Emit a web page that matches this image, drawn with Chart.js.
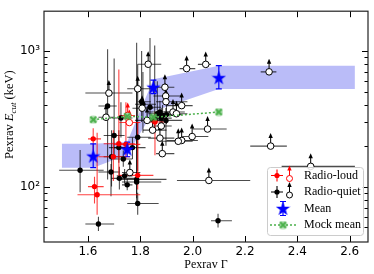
<!DOCTYPE html>
<html>
<head>
<meta charset="utf-8">
<script src="https://cdn.jsdelivr.net/npm/chart.js@4.4.1/dist/chart.umd.min.js"></script>
<style>html,body{margin:0;padding:0;background:#fff}</style>
</head>
<body>
<canvas id="c" width="374" height="274" style="width:374px;height:274px"></canvas>
<script>
// pexrav photon index vs cutoff energy
// detections: [gamma, gammaLo, gammaHi, ecut, ecutLo, ecutHi]
const radioLoud = [
    [1.62, 1.60, 1.65, 225, 185, 270],
    [1.625, 1.60, 1.66, 100, 75, 118],
    [1.635, 1.56, 1.80, 87, 62, 250],
    [1.718, 1.66, 1.78, 207, 120, 730],
    [1.697, 1.64, 1.76, 166, 110, 260],
    [1.79, 1.72, 1.85, 121, 95, 300],
    [1.856, 1.82, 1.90, 300, 170, 350],
    [1.745, 1.70, 1.80, 205, 160, 420]
];
const radioQuiet = [
    [1.57, 1.49, 1.66, 132, 91, 186],
    [1.64, 1.59, 1.70, 53, 47, 60],
    [1.675, 1.64, 1.71, 393, 113, 1030],
    [1.69, 1.66, 1.73, 166, 100, 260],
    [1.688, 1.64, 1.72, 128, 85, 147],
    [1.70, 1.66, 1.74, 238, 160, 880],
    [1.718, 1.68, 1.77, 194, 150, 260],
    [1.726, 1.69, 1.77, 321, 230, 420],
    [1.72, 1.69, 1.79, 115, 95, 140],
    [1.735, 1.70, 1.77, 160, 140, 185],
    [1.75, 1.73, 1.77, 103, 94, 114],
    [1.77, 1.70, 1.82, 194, 160, 230],
    [1.786, 1.71, 1.90, 113, 75, 1150],
    [1.786, 1.73, 1.88, 108, 82, 500],
    [1.79, 1.75, 1.87, 75, 62, 90],
    [1.79, 1.75, 1.84, 231, 130, 800],
    [1.805, 1.79, 1.84, 423, 300, 1000],
    [1.81, 1.78, 1.86, 405, 250, 700],
    [1.837, 1.80, 1.88, 385, 330, 1250],
    [1.875, 1.83, 1.93, 355, 290, 430],
    [1.885, 1.85, 1.94, 335, 280, 400],
    [1.898, 1.86, 1.96, 308, 200, 380],
    [1.90, 1.87, 1.96, 340, 290, 400],
    [2.097, 2.07, 2.15, 56, 50, 63],
    [1.855, 1.82, 1.90, 315, 260, 1100],
    [1.865, 1.83, 1.91, 345, 300, 600],
    [1.88, 1.84, 1.92, 320, 260, 380],
    [1.74, 1.71, 1.77, 120, 105, 135]
];
// lower limits on Ecut: [gamma, gammaLo, gammaHi, ecut]
const radioLoudLim = [
    [1.758, 1.72, 1.80, 297],
    [1.752, 1.72, 1.78, 335]
];
const radioQuietLim = [
    [1.68, 1.59, 1.77, 490],
    [1.669, 1.64, 1.70, 325],
    [1.79, 1.75, 1.86, 527],
    [1.83, 1.79, 1.88, 800],
    [1.894, 1.86, 1.93, 541],
    [1.897, 1.85, 1.96, 466],
    [1.898, 1.86, 1.98, 423],
    [1.958, 1.90, 2.00, 396],
    [1.977, 1.95, 2.01, 743],
    [2.05, 2.02, 2.07, 798],
    [2.292, 2.26, 2.32, 703],
    [2.298, 2.22, 2.36, 199],
    [2.451, 2.34, 2.62, 141],
    [2.062, 1.94, 2.22, 111],
    [2.057, 2.00, 2.13, 266],
    [1.998, 1.96, 2.06, 234],
    [1.958, 1.90, 2.02, 219],
    [1.945, 1.88, 2.00, 216],
    [1.884, 1.86, 1.93, 175],
    [1.875, 1.83, 1.93, 228],
    [1.847, 1.81, 1.90, 261],
    [1.826, 1.78, 1.87, 308],
    [1.807, 1.77, 1.85, 379],
    [1.925, 1.89, 1.97, 355],
    [1.938, 1.91, 1.98, 345],
    [1.76, 1.73, 1.80, 127],
    [1.88, 1.85, 1.92, 280]
];
// binned means
const meanGamma = [1.62, 1.75, 1.85, 2.10];
const meanEcut = [168, 189, 541, 637];
const meanEcutLo = [138, 166, 485, 526];
const meanEcutHi = [207, 213, 611, 781];
const mockGamma = [1.62, 1.75, 1.85, 2.10];
const mockEcut = [312, 330, 325, 355];
// shaded band
const bandGamma = [1.5, 1.62, 1.75, 1.85, 2.10, 2.62];
const bandLo = [138, 138, 172, 360, 526, 526];
const bandHi = [207, 207, 213, 620, 781, 781];
// ticks
const xTicks = [1.6, 1.8, 2.0, 2.2, 2.4, 2.6];
const yTicks = [50, 60, 70, 80, 90, 100, 200, 300, 400, 500, 600, 700, 800, 900, 1000];
const yLabels = {100: '10²', 1000: '10³'};

const GREEN = '#4bb04b';

function makeStar(size, color) {
    var c = document.createElement('canvas');
    c.width = c.height = size;
    var g = c.getContext('2d');
    var r = size / 2, ri = r * 0.4;
    g.beginPath();
    for (var i = 0; i < 10; i++) {
        var a = -Math.PI / 2 + i * Math.PI / 5;
        var rr = i % 2 ? ri : r;
        g.lineTo(r + rr * Math.cos(a), r * 1.08 + rr * Math.sin(a));
    }
    g.closePath();
    g.fillStyle = color;
    g.fill();
    return c;
}
function makeMock(size) {
    var c = document.createElement('canvas');
    c.width = c.height = size;
    var g = c.getContext('2d');
    var r = size / 2;
    g.fillStyle = 'rgba(75,176,75,0.45)';
    g.beginPath(); g.arc(r, r, r - 0.5, 0, Math.PI * 2); g.fill();
    g.strokeStyle = GREEN; g.lineWidth = 2;
    g.beginPath();
    g.moveTo(1.5, 1.5); g.lineTo(size - 1.5, size - 1.5);
    g.moveTo(size - 1.5, 1.5); g.lineTo(1.5, size - 1.5);
    g.stroke();
    return c;
}
const starImg = makeStar(15, '#0000ff');
const mockImg = makeMock(9);

function pts(xs, ys) { return xs.map((v, i) => ({x: v, y: ys[i]})); }
function rowPts(rows) { return rows.map(r => ({x: r[0], y: r[3]})); }

function drawArrow(ctx, px, py, color) {
    ctx.strokeStyle = color;
    ctx.fillStyle = color;
    ctx.lineWidth = 1;
    ctx.beginPath(); ctx.moveTo(px, py); ctx.lineTo(px, py - 9); ctx.stroke();
    ctx.beginPath();
    ctx.moveTo(px, py - 13); ctx.lineTo(px - 2.2, py - 8); ctx.lineTo(px + 2.2, py - 8);
    ctx.closePath(); ctx.fill();
}

function drawBars(ctx, xs, ys, rows, color, isLim, arrowColor) {
    rows.forEach(function(r) {
        var px = xs.getPixelForValue(r[0]), py = ys.getPixelForValue(r[3]);
        ctx.strokeStyle = color;
        ctx.lineWidth = 1.1;
        ctx.beginPath();
        ctx.moveTo(xs.getPixelForValue(r[1]), py);
        ctx.lineTo(xs.getPixelForValue(r[2]), py);
        if (!isLim) {
            ctx.moveTo(px, ys.getPixelForValue(r[4]));
            ctx.lineTo(px, ys.getPixelForValue(r[5]));
        }
        ctx.stroke();
        if (isLim) drawArrow(ctx, px, py, arrowColor);
    });
}

// error bars go in right before the first marker set
const errorBars = {
    id: 'errorBars',
    beforeDatasetDraw(chart, args) {
        if (chart.data.datasets[args.index].label !== 'Radio-quiet') return;
        var ctx = chart.ctx, a = chart.chartArea, xs = chart.scales.x, ys = chart.scales.y;
        ctx.save();
        ctx.beginPath(); ctx.rect(a.left, a.top, a.width, a.height); ctx.clip();
        drawBars(ctx, xs, ys, radioQuiet, 'rgba(0,0,0,0.7)', false);
        drawBars(ctx, xs, ys, radioQuietLim, 'rgba(0,0,0,0.7)', true, '#000');
        drawBars(ctx, xs, ys, radioLoud, 'rgba(255,0,0,0.75)', false);
        drawBars(ctx, xs, ys, radioLoudLim, 'rgba(255,0,0,0.75)', true, '#f00');
        // mean error bars with caps
        ctx.strokeStyle = '#0000ff';
        ctx.lineWidth = 1.2;
        meanGamma.forEach(function(g, i) {
            var px = xs.getPixelForValue(g);
            var lo = ys.getPixelForValue(meanEcutLo[i]), hi = ys.getPixelForValue(meanEcutHi[i]);
            ctx.beginPath();
            ctx.moveTo(px, lo); ctx.lineTo(px, hi);
            ctx.moveTo(px - 3, lo); ctx.lineTo(px + 3, lo);
            ctx.moveTo(px - 3, hi); ctx.lineTo(px + 3, hi);
            ctx.stroke();
        });
        ctx.restore();
    }
};

const frame = {
    id: 'frame',
    afterDraw(chart) {
        var ctx = chart.ctx, a = chart.chartArea, xs = chart.scales.x, ys = chart.scales.y;
        ctx.save();
        ctx.strokeStyle = '#000';
        ctx.lineWidth = 1;
        ctx.beginPath();
        xs.ticks.forEach(function(t) {
            var p = Math.round(xs.getPixelForValue(t.value)) + 0.5;
            ctx.moveTo(p, a.bottom); ctx.lineTo(p, a.bottom - 6);
            ctx.moveTo(p, a.top); ctx.lineTo(p, a.top + 6);
        });
        ys.ticks.forEach(function(t) {
            var len = yLabels[t.value] ? 6 : 3.5;
            var p = Math.round(ys.getPixelForValue(t.value)) + 0.5;
            ctx.moveTo(a.left, p); ctx.lineTo(a.left + len, p);
            ctx.moveTo(a.right, p); ctx.lineTo(a.right - len, p);
        });
        ctx.stroke();
        ctx.lineWidth = 1.2;
        ctx.strokeStyle = '#222';
        ctx.strokeRect(a.left, a.top, a.width, a.height);

        // y title with italic E and subscript
        ctx.fillStyle = '#000';
        ctx.textBaseline = 'alphabetic';
        var parts = [
            ['Pexrav ', '12.5px "Liberation Serif"', 0],
            ['E', 'italic 12.5px "Liberation Serif"', 0],
            ['cut', 'italic 9px "Liberation Serif"', 2.5],
            [' (keV)', '12.5px "Liberation Serif"', 0]
        ];
        var w = 0;
        parts.forEach(function(p) { ctx.font = p[1]; w += ctx.measureText(p[0]).width; });
        ctx.translate(13, (a.top + a.bottom) / 2 - 12);
        ctx.rotate(-Math.PI / 2);
        var x0 = -w / 2;
        parts.forEach(function(p) {
            ctx.font = p[1];
            ctx.fillText(p[0], x0, p[2]);
            x0 += ctx.measureText(p[0]).width;
        });
        ctx.restore();

        // legend
        ctx.save();
        var bx = 267, by = 167, bw = 96, bh = 68;
        ctx.fillStyle = 'rgba(255,255,255,0.85)';
        ctx.strokeStyle = '#cccccc';
        ctx.lineWidth = 1;
        ctx.beginPath();
        ctx.roundRect(bx + 0.5, by + 0.5, bw, bh, 3);
        ctx.fill(); ctx.stroke();
        var rows = [['Radio-loud', '#f00', 175.5], ['Radio-quiet', '#000', 192], ['Mean', null, 208.5], ['Mock mean', null, 225]];
        rows.forEach(function(r, i) {
            var y = r[2];
            if (i < 2) {
                ctx.strokeStyle = r[1]; ctx.lineWidth = 1.1;
                ctx.beginPath();
                ctx.moveTo(271, y); ctx.lineTo(283, y);
                ctx.moveTo(277, y - 6); ctx.lineTo(277, y + 6);
                ctx.stroke();
                ctx.fillStyle = r[1];
                ctx.beginPath(); ctx.arc(277, y, 2.6, 0, Math.PI * 2); ctx.fill();
                drawArrow(ctx, 289.5, y + 3, r[1]);
                ctx.fillStyle = '#fff'; ctx.strokeStyle = r[1]; ctx.lineWidth = 1;
                ctx.beginPath(); ctx.arc(289.5, y + 3, 3, 0, Math.PI * 2); ctx.fill(); ctx.stroke();
            } else if (i === 2) {
                ctx.strokeStyle = '#00f'; ctx.lineWidth = 1.2;
                ctx.beginPath();
                ctx.moveTo(283, y - 7); ctx.lineTo(283, y + 7);
                ctx.moveTo(280, y - 7); ctx.lineTo(286, y - 7);
                ctx.moveTo(280, y + 7); ctx.lineTo(286, y + 7);
                ctx.stroke();
                ctx.drawImage(starImg, 283 - 7.5, y - 7.5);
            } else {
                ctx.strokeStyle = GREEN; ctx.lineWidth = 1.5;
                ctx.setLineDash([2, 2]);
                ctx.beginPath(); ctx.moveTo(270, y); ctx.lineTo(296, y); ctx.stroke();
                ctx.setLineDash([]);
                ctx.drawImage(mockImg, 283 - 4.5, y - 4.5);
            }
            ctx.fillStyle = '#000';
            ctx.font = '12px "Liberation Serif"';
            ctx.textBaseline = 'middle';
            ctx.fillText(r[0], 304, y);
        });
        ctx.restore();
    }
};

Chart.defaults.font.family = 'DejaVu Sans';
Chart.defaults.color = '#000';

new Chart(document.getElementById('c'), {
    type: 'scatter',
    data: {
        datasets: [
            {
                label: 'band low', type: 'line', data: pts(bandGamma, bandLo),
                showLine: true, borderWidth: 0, pointRadius: 0, fill: false, order: 20
            },
            {
                label: 'band high', type: 'line', data: pts(bandGamma, bandHi),
                showLine: true, borderWidth: 0, pointRadius: 0, order: 19,
                fill: '-1', backgroundColor: 'rgba(110,115,240,0.48)'
            },
            {
                label: 'Radio-quiet', data: rowPts(radioQuiet),
                pointRadius: 2.7, backgroundColor: '#000', borderColor: '#000', borderWidth: 0, order: 6
            },
            {
                label: 'Radio-loud', data: rowPts(radioLoud),
                pointRadius: 2.7, backgroundColor: '#f00', borderColor: '#f00', borderWidth: 0, order: 5
            },
            {
                label: 'Radio-quiet limits', data: rowPts(radioQuietLim),
                pointRadius: 3.3, backgroundColor: '#fff', borderColor: '#000', borderWidth: 1, order: 4
            },
            {
                label: 'Radio-loud limits', data: rowPts(radioLoudLim),
                pointRadius: 3.3, backgroundColor: '#fff', borderColor: '#f00', borderWidth: 1, order: 3
            },
            {
                label: 'Mock mean', type: 'line', data: pts(mockGamma, mockEcut),
                showLine: true, borderColor: GREEN, borderWidth: 1.5, borderDash: [2, 2],
                pointStyle: mockImg, fill: false, order: 2
            },
            {
                label: 'Mean', data: pts(meanGamma, meanEcut),
                pointStyle: starImg, order: 1
            }
        ]
    },
    options: {
        responsive: false,
        animation: false,
        devicePixelRatio: 1,
        layout: {autoPadding: false, padding: {top: 3, right: 6, left: 0, bottom: 0}},
        plugins: {legend: {display: false}, tooltip: {enabled: false}},
        scales: {
            x: {
                type: 'linear', min: 1.432, max: 2.67,
                grid: {display: false, drawTicks: false}, border: {display: false},
                afterBuildTicks(s) { s.ticks = xTicks.map(v => ({value: v})); },
                afterFit(s) { s.height = 32; },
                ticks: {font: {size: 12}, padding: 3, autoSkip: false, maxRotation: 0, callback: v => v.toFixed(1)},
                title: {display: true, text: 'Pexrav Γ', font: {family: 'Liberation Serif', size: 12}, padding: {top: 0, bottom: 2}}
            },
            y: {
                type: 'logarithmic', min: 39, max: 1970,
                grid: {display: false, drawTicks: false}, border: {display: false},
                afterBuildTicks(s) { s.ticks = yTicks.map(v => ({value: v})); },
                afterFit(s) { s.width = 44; },
                ticks: {font: {size: 12}, padding: 4, autoSkip: false, callback: v => yLabels[v] || ''}
            }
        }
    },
    plugins: [errorBars, frame]
});
</script>
</body>
</html>
